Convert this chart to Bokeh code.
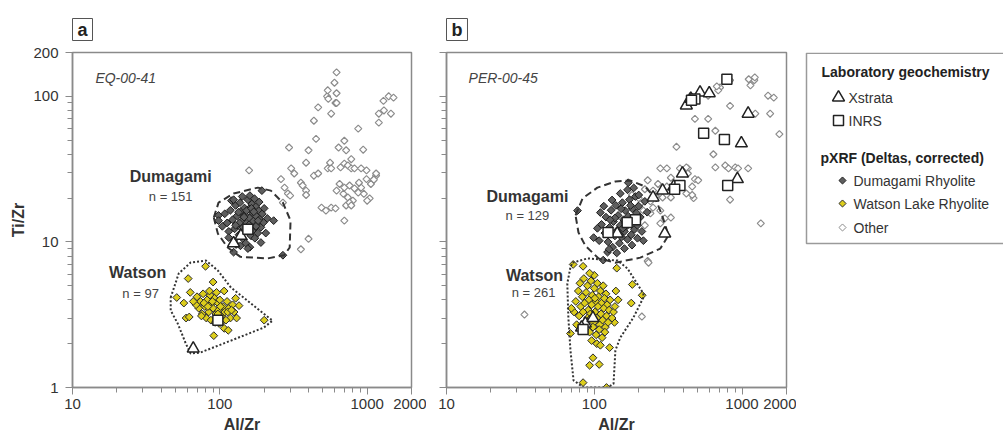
import numpy as np
from bokeh.plotting import figure
from bokeh.layouts import row
from bokeh.models import Range1d, FixedTicker, NumeralTickFormatter
from bokeh.core.properties import value
from bokeh.embed import file_html
from bokeh.resources import INLINE

FONT = "Liberation Sans"

# ---------------- data : panel a (EQ-00-41) ----------------
a_other_x = [620, 600, 535, 545, 540, 620, 610, 620, 570, 465, 435, 450, 295, 400, 385, 305, 320, 158, 260, 275,
             290, 300, 355, 365, 385, 385, 435, 465, 540, 560, 640, 700, 720, 700, 740, 780, 820, 870, 940, 990,
             1150, 1100, 1060, 650, 700, 760, 820, 870, 910, 950, 1040, 690, 740, 800, 620, 880, 990, 1110, 490, 525,
             570, 610, 720, 760, 700, 400, 355, 780, 1000, 1290, 1400, 1510, 1200, 1300, 1450, 1200, 780, 268, 660, 910,
             1150, 570]
a_other_y = [146, 124, 100, 96, 110, 105, 90, 90, 76, 84, 68, 51, 44.5, 42.6, 35, 32, 29.5, 31, 27, 23.6,
             21.5, 20.8, 25.5, 24.4, 22.5, 21, 28.5, 29.5, 32, 35, 44.5, 49.5, 42.6, 34.5, 33.5, 32, 32, 60, 43, 31,
             28.5, 26.5, 25, 25, 23.6, 24.4, 23.3, 21.8, 23.6, 21.4, 19.9, 21.4, 20.2, 19.2, 22.5, 25.5, 27, 26.8, 17.2, 16.4,
             17.2, 17, 17.8, 18.6, 14, 10.5, 8.9, 17.8, 19.2, 93, 100, 98, 76, 80, 76, 66, 37, 18.6, 32.5, 32,
             29.5, 32]

a_dum_x = [118, 122, 126, 128, 131, 133, 135, 137, 139, 141, 143, 145, 147, 149, 151, 153, 155, 157, 159, 161,
           163, 165, 167, 169, 171, 173, 175, 177, 179, 181, 184, 187, 190, 194, 198, 124, 129, 138, 150, 160,
           112, 115, 108, 104, 142, 160, 172, 185, 200, 205, 210, 120, 134, 146, 158, 166, 176, 182, 136, 144,
           152, 164, 170, 128, 140, 193, 124, 98, 232, 190, 155, 124, 268, 98, 115]
a_dum_y = [16.5, 14.2, 12.3, 17.8, 15.1, 13.0, 11.2, 18.6, 16.2, 14.0, 12.1, 10.4, 17.1, 15.3, 13.4, 11.8, 19.5, 16.8, 14.6, 12.7,
           11.0, 18.2, 15.9, 13.9, 12.3, 10.6, 17.4, 15.0, 13.2, 11.5, 16.4, 14.3, 12.6, 15.6, 13.6, 10.2, 9.6, 9.4, 9.8, 9.2,
           13.5, 11.8, 15.6, 12.8, 20.5, 20.8, 19.8, 18.8, 17.0, 11.5, 14.5, 19.2, 16.0, 14.8, 13.1, 11.9, 12.8, 14.0, 13.5, 12.6,
           16.4, 17.0, 16.1, 13.0, 11.3, 22.5, 19.5, 15.2, 14.0, 9.9, 9.0, 8.5, 8.1, 14.0, 10.7]

a_wat_x = [80, 61, 90, 63, 107, 51, 57, 128, 135, 59, 62, 200, 91, 107, 114,
           70, 74, 77, 79, 82, 84, 86, 88, 90, 92, 94, 96, 98, 100, 103, 105, 108, 112, 115, 118, 122, 125,
           72, 76, 81, 87, 93, 99, 104, 110, 69, 85, 95, 78, 89, 101, 83, 97, 113, 120, 130, 75, 66]
a_wat_y = [6.8, 5.6, 5.3, 4.5, 4.6, 4.15, 3.8, 4.1, 3.65, 3.0, 3.05, 2.9, 2.27, 2.55, 2.47,
           4.2, 3.9, 4.4, 3.6, 4.0, 3.3, 4.3, 3.75, 3.5, 4.1, 3.2, 3.85, 3.4, 4.0, 3.1, 3.6, 3.3, 3.9, 3.5, 3.0, 3.7, 3.3,
           3.5, 3.2, 3.0, 2.9, 2.8, 2.75, 2.85, 2.9, 3.7, 4.6, 4.5, 3.8, 3.9, 3.6, 3.6, 3.2, 3.3, 3.4, 3.0, 3.1, 3.9]

a_xstrata_x = [66, 124, 139]
a_xstrata_y = [1.85, 9.8, 11.0]
a_inrs_x = [155, 97]
a_inrs_y = [12.2, 2.9]

a_dum_env_x = [91, 98, 124, 181, 222, 268, 302, 298, 273, 211, 138, 113, 97]
a_dum_env_y = [14.7, 18.6, 21.5, 23.6, 22.5, 18.6, 14.0, 9.15, 8.1, 7.7, 7.9, 9.15, 11.4]
a_wat_env_x = [46.4, 52.6, 63.4, 80.5, 97, 119, 163, 228, 199, 119, 74, 63.4, 58.8, 51.8, 46.4]
a_wat_env_y = [4.15, 6.07, 7.22, 7.45, 6.36, 4.86, 3.77, 2.88, 2.58, 2.1, 1.74, 1.71, 2.0, 2.75, 3.38]

# ---------------- data : panel b (PER-00-45) ----------------
b_other_x = [830, 1140, 1210, 710, 690, 1500, 1640, 830, 1230, 1550, 480, 590, 660, 1790, 360, 640, 660, 770, 810, 900,
             940, 1100, 430, 480, 505, 420, 470, 830, 1340, 280, 310, 330, 230, 270, 280, 290, 330, 250, 280, 240,
             280, 330, 380, 420, 430, 460, 300, 250, 205, 215, 230, 233, 33.7, 210, 200, 220, 190, 240, 260, 310,
             350, 220, 180, 460, 590, 450, 675, 1110, 1220]
b_other_y = [129, 119, 129, 115, 110, 101, 98, 86, 76, 76, 70, 70, 58, 55, 45, 40, 32.5, 33.5, 32, 32.5,
             32, 32, 32, 27, 26.5, 21.5, 20, 19.5, 13.4, 32, 32, 27.6, 26.5, 25, 21.5, 20.2, 20.2, 17.2, 16.4, 15.7,
             13.4, 14.7, 32, 32.5, 29.5, 21, 14.5, 22.5, 18.3, 16.4, 7.4, 7.2, 3.17, 3.07, 20, 23, 17, 19, 20.5, 24,
             23, 13, 21, 24, 101, 101, 117, 131, 135]

b_dum_x = [77, 170, 110, 99, 115, 123, 215, 112, 118, 120, 124, 127, 130, 133, 135, 138, 140, 143, 145, 148,
           150, 153, 155, 158, 160, 162, 165, 168, 170, 173, 175, 178, 181, 184, 187, 190, 193, 196, 200, 205,
           210, 126, 142, 160, 180, 105, 108, 116, 132, 150, 168, 185, 200, 220, 228, 138, 152, 164, 176, 146,
           156, 196, 128]
b_dum_y = [16.4, 25.5, 15.9, 10.7, 7.5, 8.5, 10.2, 13.2, 11.5, 14.8, 10.0, 12.6, 16.5, 9.2, 13.8, 11.0, 17.8, 12.0, 15.2, 9.8,
           13.0, 10.8, 18.6, 14.2, 11.8, 16.4, 12.8, 10.4, 15.0, 19.5, 13.6, 11.2, 16.9, 14.4, 12.2, 20.5, 15.8, 13.0, 17.6, 14.8,
           11.8, 8.9, 8.4, 9.0, 9.5, 12.4, 10.2, 17.6, 19.4, 21.5, 22.8, 23.5, 21.0, 19.0, 16.0, 14.6, 16.9, 13.4, 17.8, 11.4,
           12.4, 10.6, 14.2]

b_wat_x = [72, 84, 142, 181, 211, 178, 137, 69, 127, 98, 93, 108, 84, 121,
           80, 85, 90, 95, 100, 105, 110, 115, 120, 78, 83, 88, 92, 97, 102, 107, 112, 117, 122, 128,
           75, 81, 86, 91, 96, 101, 106, 111, 116, 121, 126, 132, 73, 79, 84, 89, 94, 99, 104, 109,
           114, 119, 124, 135, 76, 82, 87, 93, 98, 103, 108, 113, 118, 96, 104, 110, 100, 93, 140, 138,
           145, 70, 90, 101, 95]
b_wat_y = [7.0, 6.8, 6.6, 5.1, 4.3, 3.8, 2.8, 2.35, 1.88, 1.6, 1.42, 1.44, 1.08, 1.0,
           5.2, 5.6, 5.0, 5.4, 4.8, 5.2, 4.6, 5.0, 4.4, 4.6, 4.2, 4.5, 4.0, 4.3, 3.9, 4.2, 3.8, 4.1, 3.7, 4.0,
           3.9, 3.6, 3.8, 3.4, 3.7, 3.3, 3.6, 3.2, 3.5, 3.1, 3.4, 3.0, 3.3, 3.1, 3.3, 2.9, 3.2, 2.8, 3.0, 2.7,
           2.9, 2.6, 2.8, 3.3, 2.7, 2.5, 2.7, 2.4, 2.6, 2.3, 2.5, 2.2, 2.4, 2.1, 2.0, 1.95, 5.9, 6.1, 4.6, 3.6,
           4.0, 3.5, 3.0, 4.1, 3.0]

b_xstrata_x = [420, 450, 520, 600, 1100, 990, 930, 395, 345, 290, 250, 143, 300, 87, 98, 82]
b_xstrata_y = [86.6, 96, 106, 105, 76, 47.5, 27, 29.5, 24, 22.5, 20.2, 11.4, 11.4, 2.75, 3.0, 2.58]
b_inrs_x = [790, 480, 455, 550, 760, 800, 380, 350, 190, 167, 124, 84]
b_inrs_y = [131, 96, 94, 55.7, 50.6, 24.4, 24.4, 23, 14.2, 13.6, 11.6, 2.5]

b_dum_env_x = [74.7, 83.3, 105, 139, 175, 221, 259, 288, 318, 280, 205, 139, 107, 87.1, 78.2]
b_dum_env_y = [15.2, 19.9, 23.6, 26.0, 26.4, 24.0, 19.9, 15.2, 11.1, 9.0, 7.8, 7.2, 7.7, 9.4, 11.6]
b_wat_env_x = [71.3, 90, 144, 168, 215, 215, 184, 150, 139, 135, 123, 84.7, 72.4, 69, 66.8, 65.7, 69]
b_wat_env_y = [7.2, 7.7, 7.45, 6.56, 4.42, 4.15, 3.02, 2.2, 1.8, 1.06, 1.0, 1.0, 1.12, 1.8, 3.02, 5.18, 6.7]

# ---------------- axes ----------------
x_major_ticks = [10, 100, 1000, 2000]
x_minor_ticks = [20, 30, 40, 50, 60, 70, 80, 90, 200, 300, 400, 500, 600, 700, 800, 900]
y_major_ticks = [1, 10, 100, 200]
y_minor_ticks = [2, 3, 4, 5, 6, 7, 8, 9, 20, 30, 40, 50, 60, 70, 80, 90]

YELLOW = "#dccd1c"
DUMFILL = "#5e5e5e"
OTHERLINE = "#8c8c8c"
FRAME = "#8a8a8a"
TXT = "#333333"

DIAMOND_ANGLE = np.pi / 4
H = 436
TOP = 52
BOTTOM = 49


def closed(arr):
    return list(arr) + [arr[0]]


def make_panel(letter, sample, d, show_ylabels, width, mbl, mbr):
    p = figure(width=width, height=H, x_axis_type="log", y_axis_type="log",
               x_range=Range1d(10, 2000), y_range=Range1d(1, 200),
               output_backend="svg", toolbar_location=None,
               min_border_left=mbl, min_border_right=mbr, min_border_top=TOP, min_border_bottom=BOTTOM)
    p.title.text = letter
    p.title.text_font = FONT
    p.title.text_font_size = "18px"
    p.title.text_font_style = "bold"
    p.title.text_color = "#222"
    p.title.align = "left"
    p.title.vertical_align = "top"
    p.title.border_line_color = "#555"
    p.title.border_line_width = 1
    p.title.padding = dict(left=5, right=5, top=1, bottom=1)
    p.title.standoff = 20
    p.grid.visible = False
    p.outline_line_color = FRAME
    p.outline_line_width = 1.5
    p.background_fill_color = "white"
    p.border_fill_color = "white"

    for ax in (p.xaxis[0], p.yaxis[0]):
        ax.axis_line_color = FRAME
        ax.axis_line_width = 1.5
        ax.major_tick_line_color = FRAME
        ax.minor_tick_line_color = FRAME
        ax.major_tick_in = 0
        ax.major_tick_out = 7
        ax.minor_tick_in = 0
        ax.minor_tick_out = 5
        ax.major_label_text_font = FONT
        ax.major_label_text_font_size = "15px"
        ax.major_label_text_color = TXT
        ax.axis_label_text_font = FONT
        ax.axis_label_text_font_size = "16px"
        ax.axis_label_text_font_style = "bold"
        ax.axis_label_text_color = TXT
        ax.formatter = NumeralTickFormatter(format="0")
    p.xaxis.ticker = FixedTicker(ticks=x_major_ticks, minor_ticks=x_minor_ticks)
    p.yaxis.ticker = FixedTicker(ticks=y_major_ticks, minor_ticks=y_minor_ticks)
    p.xaxis.axis_label = "Al/Zr"
    p.xaxis.major_label_standoff = 4
    p.xaxis.axis_label_standoff = 4
    if show_ylabels:
        p.yaxis.axis_label = "Ti/Zr"
        p.yaxis.major_label_standoff = 7
        p.yaxis.axis_label_standoff = 3
    else:
        p.yaxis.major_label_overrides = {t: "" for t in y_major_ticks}
        p.yaxis.major_label_standoff = 0

    # points
    p.scatter(d["ox"], d["oy"], marker="square", angle=DIAMOND_ANGLE, size=5,
              fill_color="white", line_color=OTHERLINE, line_width=1.2)
    p.scatter(d["dx"], d["dy"], marker="square", angle=DIAMOND_ANGLE, size=5.5,
              fill_color=DUMFILL, line_color="#1e1e1e", line_width=1)
    p.scatter(d["wx"], d["wy"], marker="square", angle=DIAMOND_ANGLE, size=5.5,
              fill_color=YELLOW, line_color="#2a2a2a", line_width=1)
    # envelopes
    p.line(closed(d["dex"]), closed(d["dey"]), line_color="#333", line_width=2, line_dash="7 4")
    p.line(closed(d["wex"]), closed(d["wey"]), line_color="#333", line_width=2, line_dash="2 2")
    # laboratory
    p.scatter(d["tx"], d["ty"], marker="triangle", size=12, fill_color="white",
              line_color="#222", line_width=1.5)
    p.scatter(d["sx"], d["sy"], marker="square", size=10, fill_color="white",
              line_color="#222", line_width=1.5)

    # texts
    p.text(x=[d["sample_pos"][0]], y=[d["sample_pos"][1]], text=[sample], text_font=value(FONT),
           text_font_size="14px", text_font_style="italic", text_color="#444",
           text_align="left", text_baseline="middle")
    p.text(x=[d["dl"][0]], y=[d["dl"][1]], text=["Dumagami"], text_font=value(FONT),
           text_font_size="16px", text_font_style="bold", text_color=TXT,
           text_align="center", text_baseline="middle")
    p.text(x=[d["dn"][0]], y=[d["dn"][1]], text=[d["dn_text"]], text_font=value(FONT),
           text_font_size="13px", text_color="#444", text_align="center", text_baseline="middle")
    p.text(x=[d["wl"][0]], y=[d["wl"][1]], text=["Watson"], text_font=value(FONT),
           text_font_size="16px", text_font_style="bold", text_color=TXT,
           text_align="center", text_baseline="middle")
    p.text(x=[d["wn"][0]], y=[d["wn"][1]], text=[d["wn_text"]], text_font=value(FONT),
           text_font_size="13px", text_color="#444", text_align="center", text_baseline="middle")
    return p


da = dict(ox=a_other_x, oy=a_other_y, dx=a_dum_x, dy=a_dum_y, wx=a_wat_x, wy=a_wat_y,
          tx=a_xstrata_x, ty=a_xstrata_y, sx=a_inrs_x, sy=a_inrs_y,
          dex=a_dum_env_x, dey=a_dum_env_y, wex=a_wat_env_x, wey=a_wat_env_y,
          sample_pos=(14.3, 134), dl=(46.4, 28.1), dn=(46.4, 20.5), dn_text="n = 151",
          wl=(27.7, 6.17), wn=(29.0, 4.42), wn_text="n = 97")
db = dict(ox=b_other_x, oy=b_other_y, dx=b_dum_x, dy=b_dum_y, wx=b_wat_x, wy=b_wat_y,
          tx=b_xstrata_x, ty=b_xstrata_y, sx=b_inrs_x, sy=b_inrs_y,
          dex=b_dum_env_x, dey=b_dum_env_y, wex=b_wat_env_x, wey=b_wat_env_y,
          sample_pos=(14.1, 134), dl=(35.3, 20.5), dn=(35.3, 15.2), dn_text="n = 129",
          wl=(39.4, 5.88), wn=(38.8, 4.49), wn_text="n = 261")

pa = make_panel("a", "EQ-00-41", da, True, 426, 72, 15)
pb = make_panel("b", "PER-00-45", db, False, 370, 20, 10)

# ---------------- legend panel (frame aligned with the panels' frames: page y 52..387) ----------------
LW = 207
lg = figure(width=LW, height=H, x_range=Range1d(0, LW), y_range=Range1d(H - BOTTOM, TOP),
            output_backend="svg", toolbar_location=None,
            min_border_left=0, min_border_right=0, min_border_top=TOP, min_border_bottom=BOTTOM)
lg.axis.visible = False
lg.grid.visible = False
lg.outline_line_color = None
lg.quad(left=[10], right=[260], top=[52.8], bottom=[243], fill_color=None, line_color="#9a9a9a", line_width=1.5)

head_text = ["Laboratory geochemistry", "pXRF (Deltas, corrected)"]
lg.text(x=[25, 24], y=[71, 157], text=head_text, text_font=value(FONT), text_font_size="14px",
        text_font_style="bold", text_color="#222", text_baseline="middle")
lab_labels = ["Xstrata", "INRS"]
lg.scatter([42], [97], marker="triangle", size=12, fill_color="white", line_color="#222", line_width=1.5)
lg.scatter([42], [120], marker="square", size=10, fill_color="white", line_color="#222", line_width=1.5)
lg.text(x=[52, 52], y=[97, 120], text=lab_labels, text_font=value(FONT), text_font_size="14px",
        text_color="#333", text_baseline="middle")
px_labels = ["Dumagami Rhyolite", "Watson Lake Rhyolite", "Other"]
lg.scatter([46], [180], marker="square", angle=DIAMOND_ANGLE, size=5, fill_color=DUMFILL, line_color="#1e1e1e")
lg.scatter([46], [203], marker="square", angle=DIAMOND_ANGLE, size=5, fill_color=YELLOW, line_color="#2a2a2a")
lg.scatter([46], [227], marker="square", angle=DIAMOND_ANGLE, size=5, fill_color="white", line_color=OTHERLINE)
lg.text(x=[57, 57, 57], y=[180, 203, 227], text=px_labels, text_font=value(FONT), text_font_size="14px",
        text_color="#333", text_baseline="middle")

layout = row(pa, pb, lg)
open("out.html", "w").write(file_html(layout, INLINE))
